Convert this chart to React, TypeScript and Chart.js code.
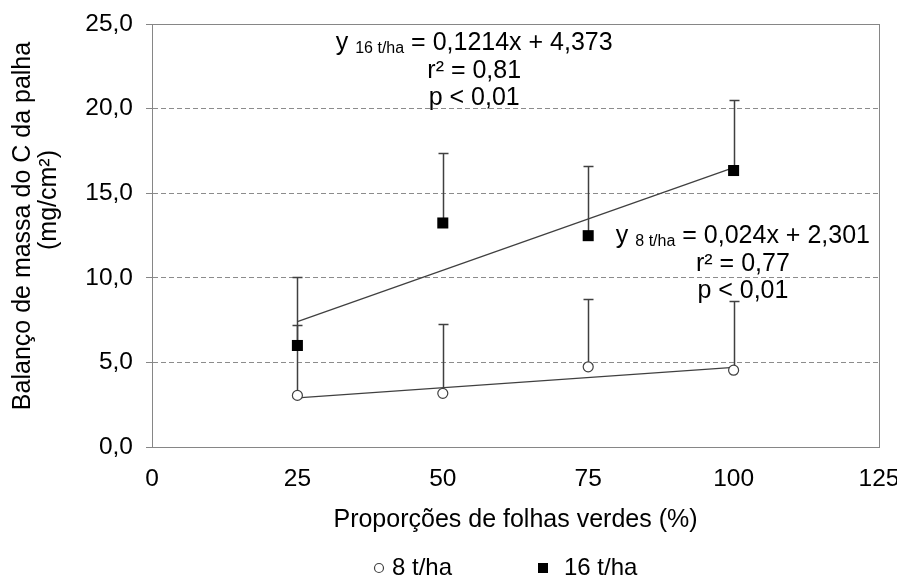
import { useEffect, useRef } from 'react';
import { Chart, registerables } from 'chart.js';

Chart.register(...registerables);

// ---- data ----
const xValues = [25, 50, 75, 100];
const mean8 = [3.05, 3.17, 4.74, 4.54];
const err8 = [4.17, 4.11, 4.03, 4.11];
const mean16 = [6.0, 13.24, 12.49, 16.34];
const err16 = [4.06, 4.11, 4.09, 4.16];
const trendX = [25, 100];
const trend8 = [2.9, 4.7];
const trend16 = [7.41, 16.51];
const seriesLabels = ['8 t/ha', '16 t/ha'];
const xTitle = 'Proporções de folhas verdes (%)';
const yTitleLines = ['Balanço de massa do C da palha', '(mg/cm²)'];
const eq16 = { sub: '16 t/ha', rest: ' = 0,1214x + 4,373', r2: 'r² = 0,81', p: 'p < 0,01' };
const eq8 = { sub: '8 t/ha', rest: ' = 0,024x + 2,301', r2: 'r² = 0,77', p: 'p < 0,01' };

const FONT = '"Liberation Sans", Arial, sans-serif';
const AXIS_GRAY = '#868686';
const LINE_DARK = '#404040';

const errorBarPlugin = {
  id: 'errorBars',
  beforeDatasetsDraw(chart: any) {
    const { ctx } = chart;
    const y = chart.scales.y;
    const x = chart.scales.x;
    const sets = [
      { m: mean8, e: err8 },
      { m: mean16, e: err16 },
    ];
    ctx.save();
    ctx.strokeStyle = LINE_DARK;
    ctx.lineWidth = 1.5;
    sets.forEach((s) => {
      xValues.forEach((xv, i) => {
        const px = Math.round(x.getPixelForValue(xv)) + 0.5;
        const p0 = y.getPixelForValue(s.m[i]);
        const p1 = Math.round(y.getPixelForValue(s.m[i] + s.e[i])) + 0.5;
        ctx.beginPath();
        ctx.moveTo(px, p0);
        ctx.lineTo(px, p1);
        ctx.moveTo(px - 5, p1);
        ctx.lineTo(px + 5, p1);
        ctx.stroke();
      });
    });
    ctx.restore();
  },
};

function drawEquation(ctx: any, cx: number, cy: number, eq: any) {
  const main = `25px ${FONT}`;
  const small = `16px ${FONT}`;
  ctx.save();
  ctx.fillStyle = '#000';
  ctx.textBaseline = 'middle';
  ctx.textAlign = 'left';
  ctx.font = main;
  const wY = ctx.measureText('y ').width;
  const wRest = ctx.measureText(eq.rest).width;
  ctx.font = small;
  const wSub = ctx.measureText(eq.sub).width;
  const total = wY + wSub + wRest;
  let xx = cx - total / 2;
  ctx.font = main;
  ctx.fillText('y ', xx, cy);
  xx += wY;
  ctx.font = small;
  ctx.fillText(eq.sub, xx, cy + 5);
  xx += wSub;
  ctx.font = main;
  ctx.fillText(eq.rest, xx, cy);
  ctx.textAlign = 'center';
  ctx.fillText(eq.r2, cx, cy + 28);
  ctx.fillText(eq.p, cx, cy + 55);
  ctx.restore();
}

const decorPlugin = {
  id: 'decor',
  afterDraw(chart: any) {
    const { ctx, chartArea } = chart;
    const x = chart.scales.x;
    const y = chart.scales.y;
    // plot border
    ctx.save();
    ctx.strokeStyle = AXIS_GRAY;
    ctx.lineWidth = 1;
    ctx.strokeRect(
      Math.round(chartArea.left) + 0.5,
      Math.round(chartArea.top) + 0.5,
      Math.round(chartArea.right - chartArea.left),
      Math.round(chartArea.bottom - chartArea.top)
    );
    ctx.restore();

    // equations anchored in data coordinates
    drawEquation(ctx, x.getPixelForValue(55.4), y.getPixelForValue(23.85), eq16);
    drawEquation(ctx, x.getPixelForValue(101.6), y.getPixelForValue(12.45), eq8);

    // y title (two lines)
    const titleFont = `25px ${FONT}`;
    ctx.save();
    ctx.fillStyle = '#000';
    ctx.font = titleFont;
    ctx.textAlign = 'center';
    ctx.textBaseline = 'middle';
    ctx.translate(23, 226);
    ctx.rotate(-Math.PI / 2);
    ctx.fillText(yTitleLines[0], 0, 0);
    ctx.restore();
    ctx.save();
    ctx.fillStyle = '#000';
    ctx.font = titleFont;
    ctx.textAlign = 'center';
    ctx.textBaseline = 'middle';
    ctx.translate(49, 200);
    ctx.rotate(-Math.PI / 2);
    ctx.fillText(yTitleLines[1], 0, 0);
    ctx.restore();

    // legend
    const ly = 568;
    ctx.save();
    ctx.font = `24px ${FONT}`;
    ctx.textBaseline = 'middle';
    ctx.textAlign = 'left';
    ctx.beginPath();
    ctx.arc(379, ly, 4.5, 0, Math.PI * 2);
    ctx.fillStyle = '#fff';
    ctx.fill();
    ctx.strokeStyle = LINE_DARK;
    ctx.lineWidth = 1.2;
    ctx.stroke();
    ctx.fillStyle = '#000';
    ctx.fillText(seriesLabels[0], 392, ly);
    ctx.fillRect(538, ly - 5, 10, 10);
    ctx.fillText(seriesLabels[1], 564, ly);
    ctx.restore();
  },
};

export default function App() {
  const ref = useRef<HTMLCanvasElement | null>(null);
  useEffect(() => {
    document.body.style.margin = '0';
    const canvas = ref.current;
    if (!canvas) return;
    const chart = new Chart(canvas, {
      type: 'scatter',
      data: {
        datasets: [
          {
            label: seriesLabels[0],
            data: xValues.map((xv, i) => ({ x: xv, y: mean8[i] })),
            pointStyle: 'circle',
            pointRadius: 5,
            backgroundColor: '#ffffff',
            borderColor: LINE_DARK,
            borderWidth: 1.2,
            order: 0,
          },
          {
            label: seriesLabels[1],
            data: xValues.map((xv, i) => ({ x: xv, y: mean16[i] })),
            pointStyle: 'rect',
            pointRadius: 7.8,
            backgroundColor: '#000000',
            borderColor: '#000000',
            borderWidth: 0,
            order: 0,
          },
          {
            type: 'line',
            label: 'Linear (8 t/ha)',
            data: trendX.map((xv, i) => ({ x: xv, y: trend8[i] })),
            showLine: true,
            pointRadius: 0,
            borderColor: LINE_DARK,
            borderWidth: 1.3,
            fill: false,
            order: 2,
          },
          {
            type: 'line',
            label: 'Linear (16 t/ha)',
            data: trendX.map((xv, i) => ({ x: xv, y: trend16[i] })),
            showLine: true,
            pointRadius: 0,
            borderColor: LINE_DARK,
            borderWidth: 1.3,
            fill: false,
            order: 2,
          },
        ] as any,
      },
      options: {
        animation: false,
        responsive: false,
        maintainAspectRatio: false,
        layout: { padding: { left: 0, right: 18, top: 24, bottom: 42 } },
        plugins: {
          legend: { display: false },
          tooltip: { enabled: false },
        },
        scales: {
          x: {
            type: 'linear',
            min: 0,
            max: 125,
            afterFit: (s: any) => {
              s.height = 93;
              s.paddingRight = 0;
              s.paddingLeft = 0;
            },
            ticks: {
              stepSize: 25,
              color: '#000',
              font: { family: FONT, size: 24.5 },
              padding: 18,
              maxRotation: 0,
              autoSkip: false,
            },
            grid: { display: true, drawOnChartArea: false, drawTicks: false },
            border: { color: AXIS_GRAY, width: 1 },
            title: {
              display: true,
              text: xTitle,
              color: '#000',
              font: { family: FONT, size: 25 },
              padding: { top: 0, bottom: 5 },
            },
          },
          y: {
            type: 'linear',
            min: 0,
            max: 25,
            afterFit: (s: any) => {
              s.width = 152;
              s.paddingTop = 0;
              s.paddingBottom = 0;
            },
            ticks: {
              stepSize: 5,
              color: '#000',
              font: { family: FONT, size: 24.5 },
              padding: 13,
              callback: (v: any) => Number(v).toFixed(1).replace('.', ','),
            },
            grid: {
              color: '#8c8c8c',
              lineWidth: 1,
              drawTicks: true,
              tickLength: 6,
              tickColor: AXIS_GRAY,
              tickBorderDash: [],
            },
            border: { color: AXIS_GRAY, width: 1, dash: [5, 3] },
          },
        },
      } as any,
      plugins: [errorBarPlugin, decorPlugin],
    });
    return () => chart.destroy();
  }, []);
  return (
    <div style={{ width: 897, height: 582 }}>
      <canvas ref={ref} width={897} height={582} style={{ display: 'block', width: 897, height: 582 }} />
    </div>
  );
}
